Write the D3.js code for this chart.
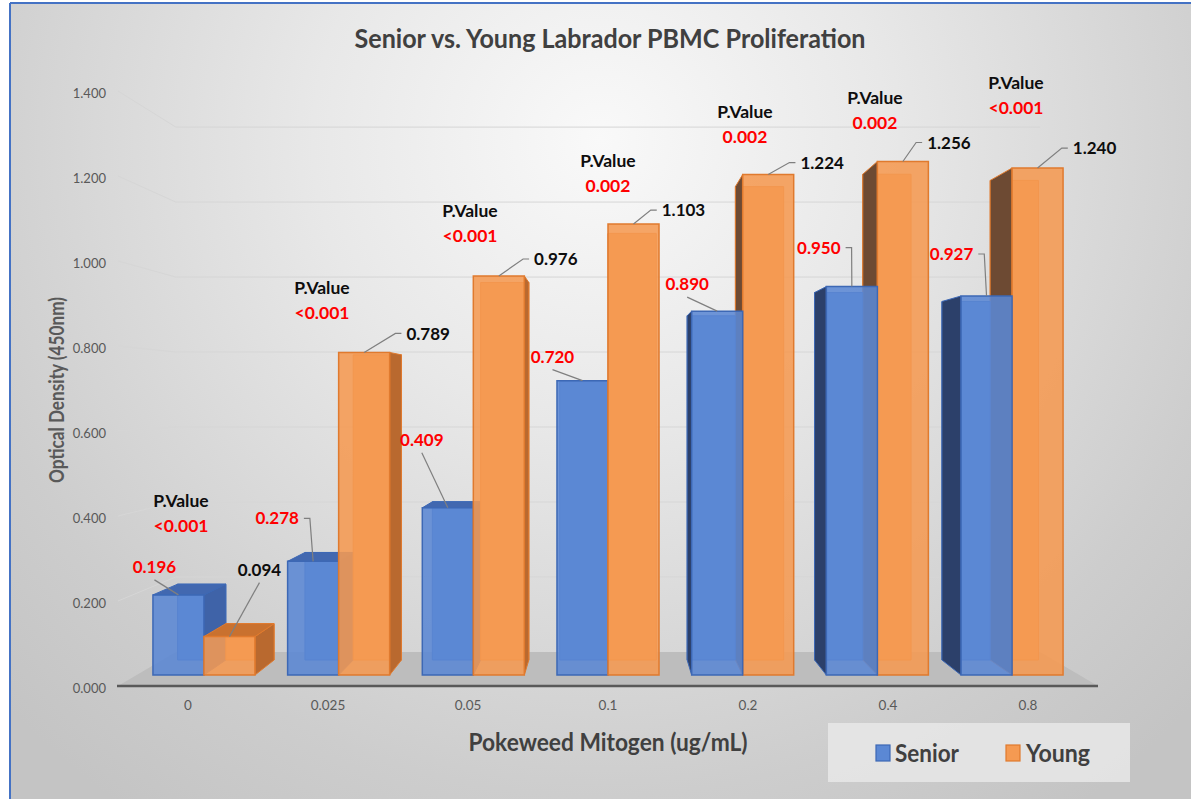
<!DOCTYPE html>
<html>
<head>
<meta charset="utf-8">
<script src="https://cdn.jsdelivr.net/npm/d3@7"></script>
<style>
  html, body { margin: 0; padding: 0; background: #ffffff; }
  svg text { font-family: Lato, "Open Sans", sans-serif; }
</style>
</head>
<body>
<svg id="chart" width="1191" height="799"></svg>
<script>
// Chart data
const categories = ["0", "0.025", "0.05", "0.1", "0.2", "0.4", "0.8"];
const seriesNames = ["Senior", "Young"];
const senior = [0.196, 0.278, 0.409, 0.720, 0.890, 0.950, 0.927];
const young = [0.094, 0.789, 0.976, 1.103, 1.224, 1.256, 1.240];
const pValues = ["<0.001", "<0.001", "<0.001", "0.002", "0.002", "0.002", "<0.001"];
const yTicks = [0, 0.2, 0.4, 0.6, 0.8, 1.0, 1.2, 1.4];

// Label placement (annotation layout, offsets from bar top)
const seniorLabelPos = [[-24, -28, "below"], [-36, -43, "side"], [-26, -68, "below"], [-30, -24, "below"], [-30, -27, "below"], [-33, -39, "side"], [-35, -42, "side"]];
const youngLabelPos = [[30, -67, "below"], [64, -19, "side"], [57, -17, "side"], [50, -14, "side"], [54, -12, "side"], [46, -19, "side"], [57, -20, "side"]];
const pLabelDx = [-7, -6, 2, 0, -3, -13, -12];
const pLabelDy = [-94, -65, -65, -63, -63, -64, -85];

const colors = {
	Senior: { front: "#5b88d4", stroke: "#3d68b5", right: "#3f63a8", left: "#2c406a", top: "#4268b0" },
	Young: { front: "#f59a52", stroke: "#e07a2e", right: "#b9692f", left: "#6d4a33", top: "#c9712f" },
};

const svg = d3.select("#chart");
const W = 1191, H = 799;

// Perspective set-up (vanishing point and depth scale factors)
const vp = { x: 608, y: 397 };
const sBack = 0.882, sBarFront = 0.962, sBarBack = 0.910;
function proj(X, Y, s) {
	return [vp.x + (X - vp.x) * s, vp.y + (Y - vp.y) * s];
}

// Scales
const x = d3.scaleBand().domain(categories).range([118, 1098]);
const xs = d3.scaleBand().domain(seriesNames).range([0, x.bandwidth()]).paddingOuter(0.32);
const y = d3.scaleLinear().domain([0, 1.4]).range([686, 91]);

// Background
const defs = svg.append("defs");
const bg = defs.append("radialGradient")
	.attr("id", "bg")
	.attr("gradientUnits", "userSpaceOnUse")
	.attr("cx", 600).attr("cy", 140).attr("r", 820);
bg.append("stop").attr("offset", 0).attr("stop-color", "#f9f9f9");
bg.append("stop").attr("offset", 0.35).attr("stop-color", "#e8e8e8");
bg.append("stop").attr("offset", 0.8).attr("stop-color", "#cdcdcd");
bg.append("stop").attr("offset", 1).attr("stop-color", "#c4c4c4");

svg.append("rect").attr("x", 10).attr("y", 3).attr("width", W - 10).attr("height", H - 3).attr("fill", "url(#bg)");
svg.append("line").attr("x1", 10).attr("y1", 3).attr("x2", 10).attr("y2", H).attr("stroke", "#4472c4").attr("stroke-width", 2);
svg.append("line").attr("x1", 10).attr("y1", 3).attr("x2", W).attr("y2", 3).attr("stroke", "#4472c4").attr("stroke-width", 2);

// Title
svg.append("text")
	.attr("x", 610).attr("y", 48)
	.attr("text-anchor", "middle")
	.attr("font-size", 27).attr("font-weight", "bold")
	.attr("fill", "#404040")
	.attr("textLength", 511).attr("lengthAdjust", "spacingAndGlyphs")
	.text("Senior vs. Young Labrador PBMC Proliferation");

// Gridlines: left wall + back wall
const x0 = x.range()[0], x1 = x.range()[1];
const grid = svg.append("g").attr("fill", "none").attr("stroke", "#d6d6d6").attr("stroke-width", 1);
yTicks.filter((t) => t > 0).forEach((t) => {
	const a = proj(x0, y(t), 1), b = proj(x0, y(t), sBack), c = proj(x1, y(t), sBack);
	grid.append("polyline").attr("points", [a, b, c].map((p) => p.join(",")).join(" "));
});

// Floor
const floor = [proj(x0, y(0), 1), proj(x1, y(0), 1), proj(x1, y(0), sBack), proj(x0, y(0), sBack)];
svg.append("polygon").attr("points", floor.map((p) => p.join(",")).join(" ")).attr("fill", "#bdbdbd");
svg.append("line")
	.attr("x1", x0 - 1).attr("x2", x1).attr("y1", y(0)).attr("y2", y(0))
	.attr("stroke", "#595959").attr("stroke-width", 2.5);

// Axes
const yAxis = svg.append("g")
	.attr("transform", "translate(110,0)")
	.call(d3.axisLeft(y).tickValues(yTicks).tickFormat(d3.format(".3f")).tickSize(0).tickPadding(4));
yAxis.select(".domain").remove();
yAxis.selectAll("text").attr("font-size", 13).attr("fill", "#595959").attr("font-family", "Lato, sans-serif").attr("y", 2);

const xAxis = svg.append("g")
	.attr("transform", `translate(0,${y(0)})`)
	.call(d3.axisBottom(x).tickSize(0));
xAxis.select(".domain").remove();
xAxis.selectAll("text")
	.attr("font-size", 13.5).attr("fill", "#595959").attr("font-family", "Lato, sans-serif")
	.attr("dy", null).attr("y", 21).attr("dominant-baseline", "middle");

// Axis titles
svg.append("text")
	.attr("transform", "translate(64,390) rotate(-90)")
	.attr("text-anchor", "middle")
	.attr("font-size", 20).attr("font-weight", "bold").attr("fill", "#595959")
	.attr("textLength", 186).attr("lengthAdjust", "spacingAndGlyphs")
	.text("Optical Density (450nm)");

svg.append("text")
	.attr("x", 608).attr("y", 751)
	.attr("text-anchor", "middle")
	.attr("font-size", 25).attr("font-weight", "bold").attr("fill", "#404040")
	.attr("textLength", 279).attr("lengthAdjust", "spacingAndGlyphs")
	.text("Pokeweed Mitogen (ug/mL)");

// Bars
const bars = [];
categories.forEach((c, i) => {
	[["Senior", senior[i]], ["Young", young[i]]].forEach(([s, v]) => {
		const X0 = x(c) + xs(s), X1 = X0 + xs.bandwidth();
		bars.push({ cat: c, i, series: s, value: v, X0, X1 });
	});
});
bars.sort((a, b) => Math.abs((b.X0 + b.X1) / 2 - vp.x) - Math.abs((a.X0 + a.X1) / 2 - vp.x));

const pts = (arr) => arr.map((p) => p.join(",")).join(" ");
const barG = svg.append("g");
bars.forEach((d) => {
	const col = colors[d.series];
	const Yt = y(d.value), Yb = y(0);
	const fTL = proj(d.X0, Yt, sBarFront), fTR = proj(d.X1, Yt, sBarFront);
	const fBL = proj(d.X0, Yb, sBarFront), fBR = proj(d.X1, Yb, sBarFront);
	const bTL = proj(d.X0, Yt, sBarBack), bTR = proj(d.X1, Yt, sBarBack);
	const bBL = proj(d.X0, Yb, sBarBack), bBR = proj(d.X1, Yb, sBarBack);
	const g = barG.append("g");

	// back edges (seen through the translucent front)
	g.append("polygon").attr("points", pts([bTL, bTR, bBR, bBL]))
		.attr("fill", col.front).attr("stroke", col.stroke).attr("stroke-width", 1);

	if (d.X1 < vp.x) {
		g.append("polygon").attr("points", pts([fTR, fBR, bBR, bTR]))
			.attr("fill", col.right).attr("stroke", col.stroke).attr("stroke-width", 1).attr("stroke-linejoin", "round");
	} else if (d.X0 > vp.x) {
		g.append("polygon").attr("points", pts([fTL, fBL, bBL, bTL]))
			.attr("fill", col.left).attr("stroke", col.stroke).attr("stroke-width", 1).attr("stroke-linejoin", "round");
	}
	if (fTL[1] > vp.y) {
		g.append("polygon").attr("points", pts([fTL, fTR, bTR, bTL]))
			.attr("fill", col.top).attr("stroke", col.stroke).attr("stroke-width", 1).attr("stroke-linejoin", "round");
	}
	g.append("polygon").attr("points", pts([fTL, fTR, fBR, fBL]))
		.attr("fill", col.front).attr("fill-opacity", 0.88)
		.attr("stroke", col.stroke).attr("stroke-width", 1.5);
});

// Data labels with leader lines
const labelG = svg.append("g");
function addLabel(X0, X1, v, pos, color) {
	const a = proj((X0 + X1) / 2, y(v), sBarFront);
	const cx = a[0] + pos[0], cy = a[1] + pos[1];
	const t = labelG.append("text")
		.attr("x", cx).attr("y", cy).attr("dy", "0.36em")
		.attr("text-anchor", "middle")
		.attr("font-size", 17).attr("font-weight", "bold")
		.attr("fill", color)
		.text(d3.format(".3f")(v));
	const hw = t.node().getComputedTextLength() / 2;
	let line;
	if (pos[2] === "below") {
		line = [[cx, cy + 13], a];
	} else if (pos[0] > 0) {
		line = [[cx - hw - 5, cy], [cx - hw - 11, cy], a];
	} else {
		line = [[cx + hw + 5, cy], [cx + hw + 11, cy], a];
	}
	labelG.append("polyline").attr("points", pts(line))
		.attr("fill", "none").attr("stroke", "#7f7f7f").attr("stroke-width", 1.2);
}
categories.forEach((c, i) => {
	const sX0 = x(c) + xs("Senior"), yX0 = x(c) + xs("Young"), bw = xs.bandwidth();
	addLabel(sX0, sX0 + bw, senior[i], seniorLabelPos[i], "#ff0000");
	addLabel(yX0, yX0 + bw, young[i], youngLabelPos[i], "#0d0d0d");

	// P value annotation
	const topY = Math.min(proj(0, y(senior[i]), sBarFront)[1], proj(0, y(young[i]), sBarFront)[1]);
	const px = x(c) + x.bandwidth() / 2 + pLabelDx[i];
	const py = topY + pLabelDy[i];
	labelG.append("text")
		.attr("x", px).attr("y", py).attr("dy", "0.36em")
		.attr("text-anchor", "middle")
		.attr("font-size", 17.5).attr("font-weight", "bold").attr("fill", "#0d0d0d")
		.text("P.Value");
	labelG.append("text")
		.attr("x", px).attr("y", py + 25).attr("dy", "0.36em")
		.attr("text-anchor", "middle")
		.attr("font-size", 17.5).attr("font-weight", "bold").attr("fill", "#ff0000")
		.text(pValues[i]);
});

// Legend
const legend = svg.append("g");
legend.append("rect")
	.attr("x", 828).attr("y", 723).attr("width", 302).attr("height", 59)
	.attr("fill", "#e8e8e8").attr("fill-opacity", 0.85);
const legendItems = [["Senior", 876, 895], ["Young", 1006, 1026]];
legendItems.forEach(([name, sx, tx]) => {
	legend.append("rect")
		.attr("x", sx).attr("y", 745).attr("width", 14).attr("height", 16)
		.attr("fill", colors[name].front).attr("stroke", colors[name].stroke).attr("stroke-width", 1.2);
	legend.append("text")
		.attr("x", tx).attr("y", 762)
		.attr("font-size", 25).attr("font-weight", "bold").attr("fill", "#404040")
		.attr("textLength", 64).attr("lengthAdjust", "spacingAndGlyphs")
		.text(name);
});
</script>
</body>
</html>
